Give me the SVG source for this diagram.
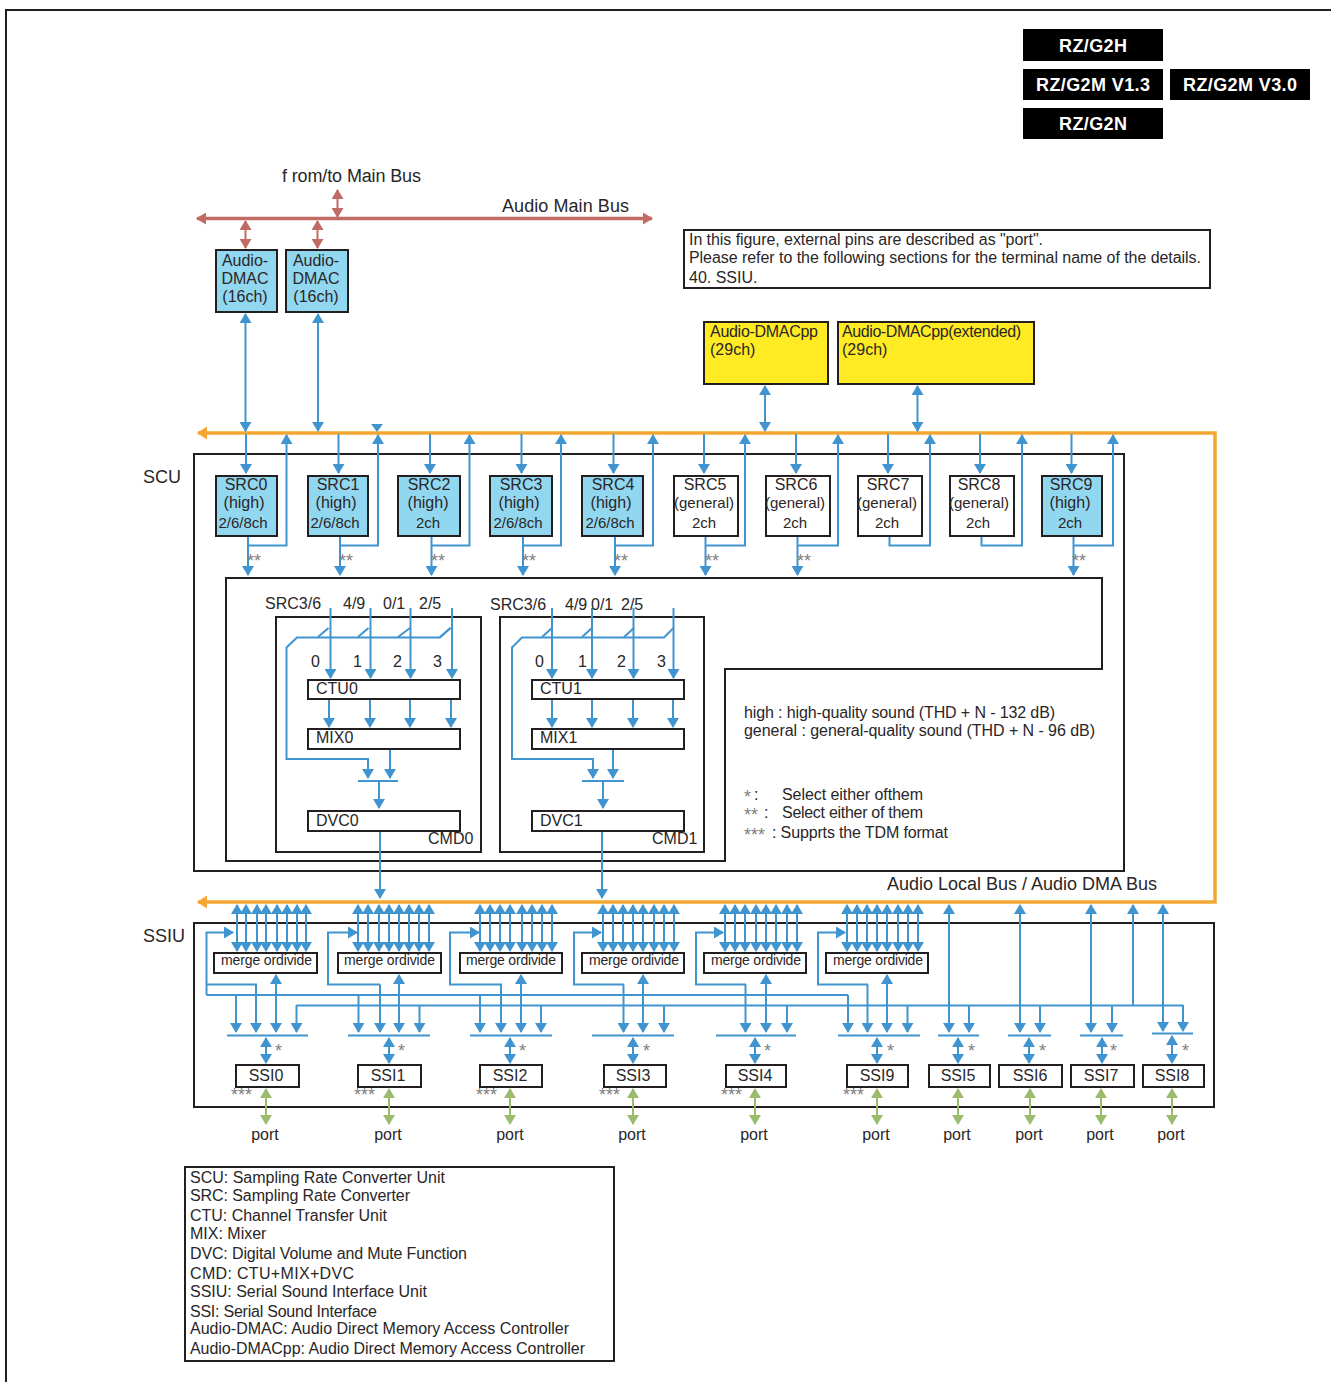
<svg xmlns="http://www.w3.org/2000/svg" width="1331" height="1382" viewBox="0 0 1331 1382">
<style>
text{font-family:"Liberation Sans",Arial,sans-serif;font-size:16px;fill:#2a2627}
.c{text-anchor:middle}
.n{font-size:15px}
.l{font-size:18px}
.m{font-size:14px}
.s{font-size:18px;fill:#808080}
.t{font-size:18px;font-weight:bold;fill:#fff;text-anchor:middle}
.box{fill:#fff;stroke:#231f20;stroke-width:2}
.no{fill:none;stroke:#231f20;stroke-width:2}
.cy{fill:#92d7f0;stroke:#231f20;stroke-width:2}
.ye{fill:#ffeb23;stroke:#231f20;stroke-width:2}
.blk{fill:#000}
.b,.bd,.bn{fill:none;stroke:#4095d0;stroke-width:2}
.b{marker-end:url(#ab)}
.bd{marker-start:url(#ab);marker-end:url(#ab)}
.g{fill:none;stroke:#9bbb6d;stroke-width:2;marker-start:url(#ag);marker-end:url(#ag)}
.r{fill:none;stroke:#c06b64;stroke-width:2;marker-start:url(#ar);marker-end:url(#ar)}
</style>
<defs>
<marker id="ab" markerUnits="userSpaceOnUse" markerWidth="10" markerHeight="12" viewBox="0 0 10 12" refX="9" refY="6" orient="auto-start-reverse"><path d="M0 0L10 6L0 12Z" fill="#4095d0"/></marker>
<marker id="ag" markerUnits="userSpaceOnUse" markerWidth="10" markerHeight="12" viewBox="0 0 10 12" refX="9" refY="6" orient="auto-start-reverse"><path d="M0 0L10 6L0 12Z" fill="#9bbb6d"/></marker>
<marker id="ar" markerUnits="userSpaceOnUse" markerWidth="10" markerHeight="12" viewBox="0 0 10 12" refX="9" refY="6" orient="auto-start-reverse"><path d="M0 0L10 6L0 12Z" fill="#c06b64"/></marker>
<marker id="ao" markerUnits="userSpaceOnUse" markerWidth="10" markerHeight="13" viewBox="0 0 10 13" refX="9" refY="6.500" orient="auto-start-reverse"><path d="M0 0L10 6.500L0 13Z" fill="#f5a632"/></marker>
</defs>
<rect width="1331" height="1382" fill="#fff"/>
<path d="M6 1382V10H1331" class="no"/>

<g id="containers">
<rect id="scu" x="194" y="454" width="930" height="417" class="no"/>
<path id="scu-inner" d="M226 578H1102V669H725V861H226Z" class="no"/>
<rect id="cmd0" x="276" y="617" width="205" height="235" class="no"/>
<rect id="cmd1" x="500" y="617" width="204" height="235" class="no"/>
<rect id="ssiu" x="194" y="923" width="1020" height="184" class="no"/>
</g>

<g id="tags">
<rect class="blk" x="1023" y="29" width="140" height="32"/><text class="t" x="1093" y="52" textLength="68">RZ/G2H</text>
<rect class="blk" x="1023" y="69" width="140" height="31"/><text class="t" x="1093" y="91" textLength="114">RZ/G2M V1.3</text>
<rect class="blk" x="1170" y="69" width="140" height="31"/><text class="t" x="1240" y="91" textLength="114">RZ/G2M V3.0</text>
<rect class="blk" x="1023" y="108" width="140" height="31"/><text class="t" x="1093" y="130" textLength="68">RZ/G2N</text>
</g>

<g id="connectors">
<path d="M198 433H1215V902H198" fill="none" stroke="#f5a632" stroke-width="3.500" marker-start="url(#ao)" marker-end="url(#ao)"/>
<path class="r" d="M197 218.500H652" style="stroke-width:3.500"/>
<path class="r" d="M337.500 190V217"/><path class="r" d="M245.500 221V248"/><path class="r" d="M317.500 221V248"/>
<path class="bd" d="M245.500 314V431"/><path class="bd" d="M318 314V431"/>
<path class="bd" d="M765 386V431"/><path class="bd" d="M917.500 386V431"/>
<path d="M371 424H383L377 432Z" fill="#4095d0"/>

<path class="b" d="M246 434V473"/><path class="b" d="M338.500 434V473"/><path class="b" d="M430 434V473"/><path class="b" d="M521.500 434V473"/><path class="b" d="M613.500 434V473"/><path class="b" d="M704 434V473"/><path class="b" d="M796 434V473"/><path class="b" d="M888 434V473"/><path class="b" d="M980 434V473"/><path class="b" d="M1071.500 434V473"/>
<path class="b" d="M248 536V575"/><path class="b" d="M340 536V575"/><path class="b" d="M431.500 536V575"/><path class="b" d="M523 536V575"/><path class="b" d="M615 536V575"/><path class="b" d="M705.500 536V575"/><path class="b" d="M797.500 536V575"/><path class="b" d="M1073.500 536V575"/>
<path class="b" d="M247 545.500H286.500V435"/><path class="b" d="M339 545.500H378V435"/><path class="b" d="M431 545.500H469.500V435"/><path class="b" d="M523 545.500H561V435"/><path class="b" d="M615 545.500H653V435"/><path class="b" d="M705 545.500H745V435"/><path class="b" d="M797 545.500H838V435"/><path class="b" d="M889.500 537V545.500H930V435"/><path class="b" d="M981.500 537V545.500H1022V435"/><path class="b" d="M1074 545.500H1113V435"/>

<path class="b" d="M330.500 608V678"/><path class="b" d="M370.500 608V678"/><path class="b" d="M410.500 608V678"/><path class="b" d="M452 608V678"/>
<path class="b" d="M329 700V727"/><path class="b" d="M370 700V727"/><path class="b" d="M410 700V727"/><path class="b" d="M451 700V727"/>
<path class="bn" d="M318 637L328.500 628M358 637L368.500 628M398 637L410 628M440 637L450.500 628"/>
<path class="b" d="M450.500 628L440 637.500H297L286.500 647.500V759H368V778"/>
<path class="b" d="M390 750V778"/><path class="bn" d="M358 781H398"/><path class="b" d="M379 781V808"/><path class="b" d="M380 832V898"/>

<path class="b" d="M552 608V678"/><path class="b" d="M592 608V678"/><path class="b" d="M633.500 608V678"/><path class="b" d="M673.500 608V678"/>
<path class="b" d="M552 700V727"/><path class="b" d="M592 700V727"/><path class="b" d="M633 700V727"/><path class="b" d="M673 700V727"/>
<path class="bn" d="M542 637L552 628M582 637L592 628M624 637L634 628"/>
<path class="b" d="M673.500 628L664 637.500H522L512 647.500V759H593V778"/>
<path class="b" d="M613 750V778"/><path class="bn" d="M582 781H624"/><path class="b" d="M603 781V808"/><path class="b" d="M602 832V898"/>

<path class="bd" d="M237 905V951"/><path class="bd" d="M246 905V951"/><path class="bd" d="M257 905V951"/><path class="bd" d="M266 905V951"/><path class="bd" d="M277 905V951"/><path class="bd" d="M287 905V951"/><path class="bd" d="M297 905V951"/><path class="bd" d="M306 905V951"/>
<path class="bd" d="M358 905V951"/><path class="bd" d="M368 905V951"/><path class="bd" d="M379 905V951"/><path class="bd" d="M389 905V951"/><path class="bd" d="M399 905V951"/><path class="bd" d="M409 905V951"/><path class="bd" d="M419 905V951"/><path class="bd" d="M429 905V951"/>
<path class="bd" d="M480 905V951"/><path class="bd" d="M490 905V951"/><path class="bd" d="M500 905V951"/><path class="bd" d="M510 905V951"/><path class="bd" d="M522 905V951"/><path class="bd" d="M532 905V951"/><path class="bd" d="M542 905V951"/><path class="bd" d="M552 905V951"/>
<path class="bd" d="M603 905V951"/><path class="bd" d="M613 905V951"/><path class="bd" d="M623 905V951"/><path class="bd" d="M633 905V951"/><path class="bd" d="M643 905V951"/><path class="bd" d="M654 905V951"/><path class="bd" d="M664 905V951"/><path class="bd" d="M674 905V951"/>
<path class="bd" d="M725 905V951"/><path class="bd" d="M735 905V951"/><path class="bd" d="M745 905V951"/><path class="bd" d="M756 905V951"/><path class="bd" d="M766 905V951"/><path class="bd" d="M776 905V951"/><path class="bd" d="M787 905V951"/><path class="bd" d="M797 905V951"/>
<path class="bd" d="M847 905V951"/><path class="bd" d="M857 905V951"/><path class="bd" d="M867 905V951"/><path class="bd" d="M877 905V951"/><path class="bd" d="M887 905V951"/><path class="bd" d="M898 905V951"/><path class="bd" d="M908 905V951"/><path class="bd" d="M918 905V951"/>

<path class="b" d="M206.500 995V932.500H233"/><path class="b" d="M207 984.500H256V1032"/>
<path class="bn" d="M380 984.500H328V932.500H350"/><path class="b" d="M348 932.500H357"/><path class="b" d="M380 984.500V1032"/>
<path class="bn" d="M502 984.500H450V932.500H472"/><path class="b" d="M470 932.500H479"/><path class="b" d="M501 984.500V1032"/>
<path class="bn" d="M624 984.500H574V932.500H594"/><path class="b" d="M592 932.500H601"/><path class="b" d="M623.500 984.500V1032"/>
<path class="bn" d="M746 984.500H696V932.500H716"/><path class="b" d="M714 932.500H723"/><path class="b" d="M745.500 984.500V1032"/>
<path class="bn" d="M868 984.500H818V932.500H838"/><path class="b" d="M836 932.500H845"/><path class="b" d="M867.500 984.500V1032"/>

<path class="bn" d="M206.500 995H848"/><path class="bn" d="M296.500 1005.500H1183"/>
<path class="b" d="M236 995V1032"/><path class="b" d="M358.500 995V1032"/><path class="b" d="M480 995V1032"/><path class="b" d="M848 995V1032"/>
<path class="b" d="M419.500 1005V1032"/><path class="b" d="M541 1005V1032"/><path class="b" d="M664 1005V1032"/><path class="b" d="M787 1005V1032"/><path class="b" d="M907.500 1005V1032"/><path class="b" d="M969 1005V1032"/><path class="b" d="M1040 1005V1032"/><path class="b" d="M1112 1005V1032"/><path class="b" d="M1183 1005V1031"/>
<path class="b" d="M296.500 1005V1032"/>
<path class="bd" d="M276 975V1032"/><path class="bd" d="M399 975V1032"/><path class="bd" d="M521 975V1032"/><path class="bd" d="M643 975V1032"/><path class="bd" d="M766 975V1032"/><path class="bd" d="M887 975V1032"/>
<path class="bd" d="M949 905V1032"/><path class="bd" d="M1020 905V1032"/><path class="bd" d="M1091 905V1032"/><path class="bd" d="M1163 905V1031"/><path class="b" d="M1133 1005V905"/>

<path class="bn" d="M227 1035.500H308M348 1035.500H430M470 1035.500H552M592 1035.500H674M716 1035.500H796M838 1035.500H920M938 1035.500H979M1008 1035.500H1051M1080 1035.500H1123M1152 1033.500H1193"/>
<path class="bd" d="M266 1038V1063"/><path class="bd" d="M389 1038V1063"/><path class="bd" d="M510 1038V1063"/><path class="bd" d="M633 1038V1063"/><path class="bd" d="M755 1038V1063"/><path class="bd" d="M877 1038V1063"/><path class="bd" d="M958 1038V1063"/><path class="bd" d="M1029 1038V1063"/><path class="bd" d="M1102 1038V1063"/><path class="bd" d="M1172 1036V1063"/>
<path class="g" d="M266 1089V1124"/><path class="g" d="M389 1089V1124"/><path class="g" d="M510 1089V1124"/><path class="g" d="M633 1089V1124"/><path class="g" d="M755 1089V1124"/><path class="g" d="M877 1089V1124"/><path class="g" d="M958 1089V1124"/><path class="g" d="M1030 1089V1124"/><path class="g" d="M1101 1089V1124"/><path class="g" d="M1172 1089V1124"/>
</g>

<g id="audio-dmac0"><rect class="cy" x="216" y="250" width="61" height="62"/><text class="c" x="245" y="266">Audio-</text><text class="c" x="245" y="284">DMAC</text><text class="c" x="245" y="302">(16ch)</text></g>
<g id="audio-dmac1"><rect class="cy" x="286" y="250" width="62" height="62"/><text class="c" x="316" y="266">Audio-</text><text class="c" x="316" y="284">DMAC</text><text class="c" x="316" y="302">(16ch)</text></g>
<g id="dmacpp"><rect class="ye" x="704" y="322" width="124" height="62"/><text x="710" y="337" textLength="108">Audio-DMACpp</text><text x="710" y="355">(29ch)</text></g>
<g id="dmacpp-ext"><rect class="ye" x="838" y="322" width="196" height="62"/><text x="842" y="337" textLength="179">Audio-DMACpp(extended)</text><text x="842" y="355">(29ch)</text></g>

<g id="src0"><rect class="cy" x="216" y="476" width="61" height="60"/><text class="c" x="246" y="490">SRC0</text><text class="c" x="244" y="508">(high)</text><text class="c n" x="243" y="528">2/6/8ch</text></g>
<g id="src1"><rect class="cy" x="308" y="476" width="60" height="60"/><text class="c" x="338" y="490">SRC1</text><text class="c" x="336" y="508">(high)</text><text class="c n" x="335" y="528">2/6/8ch</text></g>
<g id="src2"><rect class="cy" x="398" y="476" width="62" height="60"/><text class="c" x="429" y="490">SRC2</text><text class="c" x="428" y="508">(high)</text><text class="c n" x="428" y="528">2ch</text></g>
<g id="src3"><rect class="cy" x="490" y="476" width="62" height="60"/><text class="c" x="521" y="490">SRC3</text><text class="c" x="519" y="508">(high)</text><text class="c n" x="518" y="528">2/6/8ch</text></g>
<g id="src4"><rect class="cy" x="582" y="476" width="61" height="60"/><text class="c" x="613" y="490">SRC4</text><text class="c" x="611" y="508">(high)</text><text class="c n" x="610" y="528">2/6/8ch</text></g>
<g id="src5"><rect class="box" x="674" y="476" width="64" height="60"/><text class="c" x="705" y="490">SRC5</text><text class="c n" x="704" y="508">(general)</text><text class="c n" x="704" y="528">2ch</text></g>
<g id="src6"><rect class="box" x="766" y="476" width="64" height="60"/><text class="c" x="796" y="490">SRC6</text><text class="c n" x="795" y="508">(general)</text><text class="c n" x="795" y="528">2ch</text></g>
<g id="src7"><rect class="box" x="858" y="476" width="64" height="60"/><text class="c" x="888" y="490">SRC7</text><text class="c n" x="887" y="508">(general)</text><text class="c n" x="887" y="528">2ch</text></g>
<g id="src8"><rect class="box" x="950" y="476" width="64" height="60"/><text class="c" x="979" y="490">SRC8</text><text class="c n" x="979" y="508">(general)</text><text class="c n" x="978" y="528">2ch</text></g>
<g id="src9"><rect class="cy" x="1042" y="476" width="60" height="60"/><text class="c" x="1071" y="490">SRC9</text><text class="c" x="1070" y="508">(high)</text><text class="c n" x="1070" y="528">2ch</text></g>

<g id="ctu0"><rect class="box" x="308" y="680" width="152" height="19"/><text x="316" y="694">CTU0</text></g>
<g id="mix0"><rect class="box" x="308" y="729" width="152" height="20"/><text x="316" y="743">MIX0</text></g>
<g id="dvc0"><rect class="box" x="308" y="811" width="152" height="20"/><text x="316" y="826">DVC0</text></g>
<g id="ctu1"><rect class="box" x="532" y="680" width="152" height="19"/><text x="540" y="694">CTU1</text></g>
<g id="mix1"><rect class="box" x="532" y="729" width="152" height="20"/><text x="540" y="743">MIX1</text></g>
<g id="dvc1"><rect class="box" x="532" y="811" width="152" height="20"/><text x="540" y="826">DVC1</text></g>

<g id="merge0"><rect class="box" x="214" y="953" width="103" height="20"/><text class="m" x="221" y="965" textLength="91">merge ordivide</text></g>
<g id="merge1"><rect class="box" x="338" y="953" width="103" height="20"/><text class="m" x="344" y="965" textLength="91">merge ordivide</text></g>
<g id="merge2"><rect class="box" x="460" y="953" width="102" height="20"/><text class="m" x="466" y="965" textLength="90">merge ordivide</text></g>
<g id="merge3"><rect class="box" x="582" y="953" width="102" height="20"/><text class="m" x="589" y="965" textLength="90">merge ordivide</text></g>
<g id="merge4"><rect class="box" x="704" y="953" width="102" height="20"/><text class="m" x="711" y="965" textLength="90">merge ordivide</text></g>
<g id="merge9"><rect class="box" x="826" y="953" width="102" height="20"/><text class="m" x="833" y="965" textLength="90">merge ordivide</text></g>

<g id="ssi0"><rect class="box" x="236" y="1065" width="63" height="22"/><text class="c" x="266" y="1081">SSI0</text></g>
<g id="ssi1"><rect class="box" x="358" y="1065" width="63" height="22"/><text class="c" x="388" y="1081">SSI1</text></g>
<g id="ssi2"><rect class="box" x="480" y="1065" width="62" height="22"/><text class="c" x="510" y="1081">SSI2</text></g>
<g id="ssi3"><rect class="box" x="604" y="1065" width="62" height="22"/><text class="c" x="633" y="1081">SSI3</text></g>
<g id="ssi4"><rect class="box" x="726" y="1065" width="60" height="22"/><text class="c" x="755" y="1081">SSI4</text></g>
<g id="ssi9"><rect class="box" x="847" y="1065" width="61" height="22"/><text class="c" x="877" y="1081">SSI9</text></g>
<g id="ssi5"><rect class="box" x="929" y="1065" width="61" height="22"/><text class="c" x="958" y="1081">SSI5</text></g>
<g id="ssi6"><rect class="box" x="999" y="1065" width="63" height="22"/><text class="c" x="1030" y="1081">SSI6</text></g>
<g id="ssi7"><rect class="box" x="1071" y="1065" width="63" height="22"/><text class="c" x="1101" y="1081">SSI7</text></g>
<g id="ssi8"><rect class="box" x="1143" y="1065" width="61" height="22"/><text class="c" x="1172" y="1081">SSI8</text></g>

<g id="labels">
<text class="l" x="282" y="182" textLength="139">f rom/to Main Bus</text>
<text class="l" x="502" y="212" textLength="127">Audio Main Bus</text>
<text class="l" x="143" y="483">SCU</text>
<text class="l" x="143" y="942">SSIU</text>
<text class="l" x="887" y="890" textLength="270">Audio Local Bus / Audio DMA Bus</text>
<text x="265" y="609">SRC3/6</text><text x="343" y="609">4/9</text><text x="383" y="609">0/1</text><text x="419" y="609">2/5</text>
<text x="490" y="610">SRC3/6</text><text x="565" y="610">4/9</text><text x="591" y="610">0/1</text><text x="621" y="610">2/5</text>
<text x="311" y="667">0</text><text x="353" y="667">1</text><text x="393" y="667">2</text><text x="433" y="667">3</text>
<text x="535" y="667">0</text><text x="578" y="667">1</text><text x="617" y="667">2</text><text x="657" y="667">3</text>
<text x="428" y="844">CMD0</text><text x="652" y="844">CMD1</text>
<text x="744" y="718" textLength="311">high : high-quality sound (THD + N - 132 dB)</text>
<text x="744" y="736" textLength="351">general : general-quality sound (THD + N - 96 dB)</text>
<text class="s" x="744" y="803">*</text><text x="754" y="800">:</text><text x="782" y="800" textLength="141">Select either ofthem</text>
<text class="s" x="744" y="821">**</text><text x="764" y="818">:</text><text x="782" y="818" textLength="141">Select either of them</text>
<text class="s" x="744" y="841">***</text><text x="772" y="838" textLength="176">: Supprts the TDM format</text>
<text class="s" x="247" y="567">**</text><text class="s" x="339" y="567">**</text><text class="s" x="431" y="567">**</text><text class="s" x="522" y="567">**</text><text class="s" x="614" y="567">**</text><text class="s" x="705" y="567">**</text><text class="s" x="797" y="567">**</text><text class="s" x="1072" y="567">**</text>
<text class="s" x="275" y="1057">*</text><text class="s" x="398" y="1057">*</text><text class="s" x="519" y="1057">*</text><text class="s" x="643" y="1057">*</text><text class="s" x="764" y="1057">*</text><text class="s" x="887" y="1057">*</text><text class="s" x="968" y="1057">*</text><text class="s" x="1039" y="1057">*</text><text class="s" x="1110" y="1057">*</text><text class="s" x="1182" y="1057">*</text>
<text class="s" x="231" y="1101">***</text><text class="s" x="354" y="1101">***</text><text class="s" x="476" y="1101">***</text><text class="s" x="599" y="1101">***</text><text class="s" x="721" y="1101">***</text><text class="s" x="843" y="1101">***</text>
<text class="c" x="265" y="1140">port</text><text class="c" x="388" y="1140">port</text><text class="c" x="510" y="1140">port</text><text class="c" x="632" y="1140">port</text><text class="c" x="754" y="1140">port</text><text class="c" x="876" y="1140">port</text><text class="c" x="957" y="1140">port</text><text class="c" x="1029" y="1140">port</text><text class="c" x="1100" y="1140">port</text><text class="c" x="1171" y="1140">port</text>
</g>

<g id="note">
<rect class="box" x="684" y="230" width="526" height="58"/>
<text x="689" y="245" textLength="354">In this figure, external pins are described as "port".</text>
<text x="689" y="263" textLength="512">Please refer to the following sections for the terminal name of the details.</text>
<text x="689" y="283">40. SSIU.</text>
</g>

<g id="legend">
<rect class="box" x="185" y="1167" width="429" height="194"/>
<text x="190" y="1183" textLength="255">SCU: Sampling Rate Converter Unit</text>
<text x="190" y="1201" textLength="220">SRC: Sampling Rate Converter</text>
<text x="190" y="1221" textLength="197">CTU: Channel Transfer Unit</text>
<text x="190" y="1239">MIX: Mixer</text>
<text x="190" y="1259" textLength="277">DVC: Digital Volume and Mute Function</text>
<text x="190" y="1279" textLength="164">CMD: CTU+MIX+DVC</text>
<text x="190" y="1297" textLength="237">SSIU: Serial Sound Interface Unit</text>
<text x="190" y="1317" textLength="187">SSI: Serial Sound Interface</text>
<text x="190" y="1334" textLength="379">Audio-DMAC: Audio Direct Memory Access Controller</text>
<text x="190" y="1354" textLength="395">Audio-DMACpp: Audio Direct Memory Access Controller</text>
</g>
</svg>
